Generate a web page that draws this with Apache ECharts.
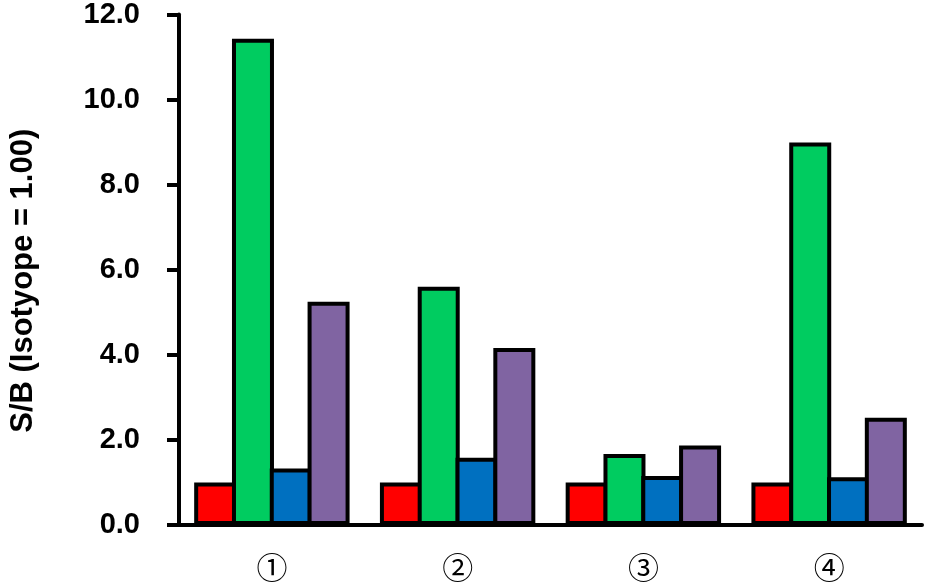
<!DOCTYPE html>
<html><head><meta charset="utf-8">
<script src="https://cdn.jsdelivr.net/npm/echarts@6/dist/echarts.min.js"></script>
<style>html,body{margin:0;padding:0;background:#fff}#c{width:950px;height:583px}</style>
</head><body><div id="c"></div>
<script>
const categories = ['①','②','③','④'];
const seriesRed = [1.0, 1.0, 1.0, 1.0];
const seriesGreen = [11.43, 5.6, 1.67, 8.99];
const seriesBlue = [1.33, 1.58, 1.15, 1.12];
const seriesPurple = [5.25, 4.16, 1.87, 2.52];
const yTicks = {min: 0, max: 12, interval: 2};
const colors = ['#FF0000', '#00CC60', '#0070C0', '#8064A2'];

const chart = echarts.init(document.getElementById('c'));
const mk = (name, data, color) => ({
  name, type: 'bar', data, barGap: '-10%', barWidth: 42,
  itemStyle: {color, borderColor: '#000', borderWidth: 4}
});
chart.setOption({
  animation: false,
  grid: {left: 177, right: 28, top: 13, bottom: 58, containLabel: false},
  xAxis: {
    type: 'category', data: categories,
    axisLine: {lineStyle: {color: '#000', width: 4}},
    axisTick: {show: false},
    axisLabel: {color: '#000', fontSize: 31, margin: 27, fontFamily: 'Noto Sans CJK JP'}
  },
  yAxis: {
    type: 'value', min: yTicks.min, max: yTicks.max, interval: yTicks.interval,
    name: 'S/B (Isotyope = 1.00)', nameLocation: 'middle', nameGap: 140,
    nameTextStyle: {color: '#000', fontSize: 31, fontWeight: 'bold', fontFamily: 'Liberation Sans', padding: [0, 22, 0, 0]},
    axisLine: {show: true, lineStyle: {color: '#000', width: 4}},
    axisTick: {show: true, length: 12, lineStyle: {color: '#000', width: 4}},
    splitLine: {show: false},
    axisLabel: {color: '#000', fontSize: 29, fontWeight: 'bold', fontFamily: 'Liberation Sans', margin: 39,
      formatter: v => v.toFixed(1)}
  },
  series: [
    mk('A', seriesRed, colors[0]),
    mk('B', seriesGreen, colors[1]),
    mk('C', seriesBlue, colors[2]),
    mk('D', seriesPurple, colors[3])
  ]
});
</script></body></html>
